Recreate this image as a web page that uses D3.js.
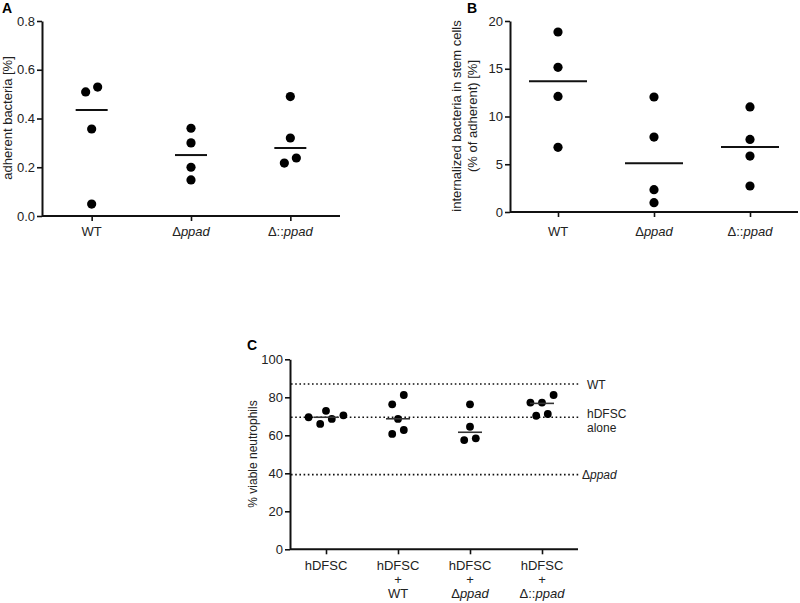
<!DOCTYPE html>
<html><head><meta charset="utf-8">
<script src="https://cdn.jsdelivr.net/npm/d3@7"></script>
<style>
body{margin:0;background:#fff;}
svg{font-family:"Liberation Sans",Arial,sans-serif;}
</style></head>
<body><svg id="c" width="800" height="603"></svg>
<script>
// ---------- DATA ----------
const catsAB = ["WT", "Δppad", "Δ::ppad"];
// Panel A: adherent bacteria [%]
const aWT    = [0.509, 0.529, 0.357, 0.049];
const aPpad  = [0.36, 0.30, 0.20, 0.148];
const aComp  = [0.49, 0.32, 0.217, 0.238];
const aSlotWT   = [-1, 1, 0, 0];
const aSlotPpad = [0, 0, 0, 0];
const aSlotComp = [0, 0, -1, 1];
const aMeans = [0.435, 0.25, 0.279];
const aTicks = [0, 0.2, 0.4, 0.6, 0.8];
// Panel B: internalized bacteria (% of adherent)
const bWT    = [18.85, 15.15, 12.1, 6.77];
const bPpad  = [12.04, 7.85, 2.34, 0.98];
const bComp  = [11.0, 7.6, 5.86, 2.72];
const bMeans = [13.68, 5.1, 6.8];
const bTicks = [0, 5, 10, 15, 20];
// Panel C: % viable neutrophils
const catsC = [["hDFSC"], ["hDFSC", "+", "WT"], ["hDFSC", "+", "Δppad"], ["hDFSC", "+", "Δ::ppad"]];
const cAlone = [69.5, 66, 72.9, 68.6, 70.5];
const cWT    = [76.3, 81.2, 68.6, 60.7, 62.8];
const cPpad  = [76.3, 64.5, 57.5, 58.4];
const cComp  = [77.2, 77.2, 81.2, 70.3, 71.2];
const cSlotAlone = [-3, -1, 0, 1, 3];
const cSlotWT    = [-1, 1, 0, -1, 1];
const cSlotPpad  = [0, 0, -1, 1];
const cSlotComp  = [-2, 0, 2, -1, 1];
const cMedians = [69.5, 68.7, 61.6, 76.8];
const cTicks = [0, 20, 40, 60, 80, 100];
const refLabels = [["WT"], ["hDFSC", "alone"], ["Δppad"]];
const refValues = [87, 69.5, 39.3];

// ---------- HELPERS ----------
const svg = d3.select("#c");
function richText(sel, label) {
  const m = label.match(/^Δ(::)?/);
  if (m) {
    sel.append("tspan").text(m[0]);
    sel.append("tspan").attr("font-style", "italic").text(label.slice(m[0].length));
  } else sel.text(label);
}
function styleAxis(g) {
  g.selectAll(".domain").attr("stroke", "#111").attr("stroke-width", 2);
  g.selectAll(".tick line").attr("stroke", "#111").attr("stroke-width", 1.6);
  g.selectAll(".tick text").attr("fill", "#222").attr("font-size", 13)
    .attr("font-family", "Liberation Sans, Arial, sans-serif");
}
function panel(cfg) {
  const x = d3.scalePoint().domain(d3.range(cfg.nCats)).range(cfg.xRange).padding(0.5);
  const y = d3.scaleLinear().domain(cfg.yDomain).range(cfg.yRange);
  const gy = svg.append("g").attr("transform", `translate(${cfg.xRange[0]},0)`)
    .call(d3.axisLeft(y).tickValues(cfg.ticks).tickFormat(cfg.fmt).tickSize(5).tickSizeOuter(0).tickPadding(2));
  styleAxis(gy);
  const gx = svg.append("g").attr("transform", `translate(0,${cfg.yRange[0]})`)
    .call(d3.axisBottom(x).tickSize(5).tickSizeOuter(0).tickFormat(""));
  styleAxis(gx);
  gx.select(".domain").attr("d", `M${cfg.xRange[0]},0H${cfg.xRange[1]}`);
  return {x, y};
}
function dots(sc, gi, vals, slots, r, step) {
  svg.append("g").selectAll("circle").data(vals).join("circle")
    .attr("cx", (d, i) => sc.x(gi) + (slots ? slots[i] : 0) * step)
    .attr("cy", d => sc.y(d)).attr("r", r).attr("fill", "#000");
}
function centerLines(sc, vals, half, color, w) {
  svg.append("g").selectAll("line").data(vals).join("line")
    .attr("x1", (d, i) => sc.x(i) - half).attr("x2", (d, i) => sc.x(i) + half)
    .attr("y1", d => sc.y(d)).attr("y2", d => sc.y(d))
    .attr("stroke", color).attr("stroke-width", w);
}

// ---------- PANEL A ----------
const A = panel({nCats: 3, xRange: [42, 340], yRange: [216, 21], yDomain: [0, 0.8], ticks: aTicks, fmt: d3.format(".1f")});
dots(A, 0, aWT, aSlotWT, 4.6, 6);
dots(A, 1, aPpad, aSlotPpad, 4.6, 6);
dots(A, 2, aComp, aSlotComp, 4.6, 6);
centerLines(A, aMeans, 16, "#111", 2);
svg.append("g").selectAll("text").data(catsAB).join("text")
  .attr("x", (d, i) => A.x(i)).attr("y", 236).attr("text-anchor", "middle")
  .attr("font-size", 13).attr("fill", "#222").each(function(d) { richText(d3.select(this), d); });
svg.append("text").attr("transform", "translate(12,118) rotate(-90)").attr("text-anchor", "middle")
  .attr("font-size", 13).attr("fill", "#222").text("adherent bacteria [%]");
svg.append("text").attr("x", 2).attr("y", 13).attr("font-size", 14).attr("font-weight", "bold").text("A");

// ---------- PANEL B ----------
const B = panel({nCats: 3, xRange: [510, 798], yRange: [212, 21], yDomain: [0, 20], ticks: bTicks, fmt: d3.format("d")});
dots(B, 0, bWT, null, 4.6, 6);
dots(B, 1, bPpad, null, 4.6, 6);
dots(B, 2, bComp, null, 4.6, 6);
centerLines(B, bMeans, 29, "#111", 2);
svg.append("g").selectAll("text").data(catsAB).join("text")
  .attr("x", (d, i) => B.x(i)).attr("y", 236).attr("text-anchor", "middle")
  .attr("font-size", 13).attr("fill", "#222").each(function(d) { richText(d3.select(this), d); });
svg.append("text").attr("transform", "translate(461,116) rotate(-90)").attr("text-anchor", "middle")
  .attr("font-size", 13).attr("fill", "#222").text("internalized bacteria in stem cells");
svg.append("text").attr("transform", "translate(477,116) rotate(-90)").attr("text-anchor", "middle")
  .attr("font-size", 13).attr("fill", "#222").text("(% of adherent) [%]");
svg.append("text").attr("x", 467).attr("y", 13).attr("font-size", 14).attr("font-weight", "bold").text("B");

// ---------- PANEL C ----------
const C = panel({nCats: 4, xRange: [290, 578], yRange: [549.3, 359.3], yDomain: [0, 100], ticks: cTicks, fmt: d3.format("d")});
// reference dotted lines
svg.append("g").selectAll("line").data(refValues).join("line")
  .attr("x1", 291).attr("x2", 580).attr("y1", d => C.y(d)).attr("y2", d => C.y(d))
  .attr("stroke", "#111").attr("stroke-width", 1.6).attr("stroke-dasharray", "1.6,2.6");
refLabels.forEach((lines, i) => {
  const lx = i === 2 ? 582 : 587;
  const t = svg.append("text").attr("x", lx).attr("y", C.y(refValues[i]) + (i === 1 ? 1 : 4.5))
    .attr("font-size", 12).attr("fill", "#222");
  lines.forEach((ln, j) => {
    const ts = t.append("tspan").attr("x", lx).attr("dy", j === 0 ? 0 : 14);
    richText(ts, ln);
  });
});
dots(C, 0, cAlone, cSlotAlone, 3.9, 5.8);
dots(C, 1, cWT, cSlotWT, 3.9, 5.8);
dots(C, 2, cPpad, cSlotPpad, 3.9, 5.8);
dots(C, 3, cComp, cSlotComp, 3.9, 5.8);
centerLines(C, cMedians, 12, "#333", 1.6);
catsC.forEach((lines, i) => {
  const t = svg.append("text").attr("text-anchor", "middle").attr("font-size", 13).attr("fill", "#222");
  lines.forEach((ln, j) => {
    const ts = t.append("tspan").attr("x", C.x(i)).attr("y", 570 + j * 14);
    richText(ts, ln);
  });
});
svg.append("text").attr("transform", "translate(257,454) rotate(-90)").attr("text-anchor", "middle")
  .attr("font-size", 12).attr("fill", "#222").text("% viable neutrophils");
svg.append("text").attr("x", 247).attr("y", 350).attr("font-size", 14).attr("font-weight", "bold").text("C");
</script>
</body></html>
